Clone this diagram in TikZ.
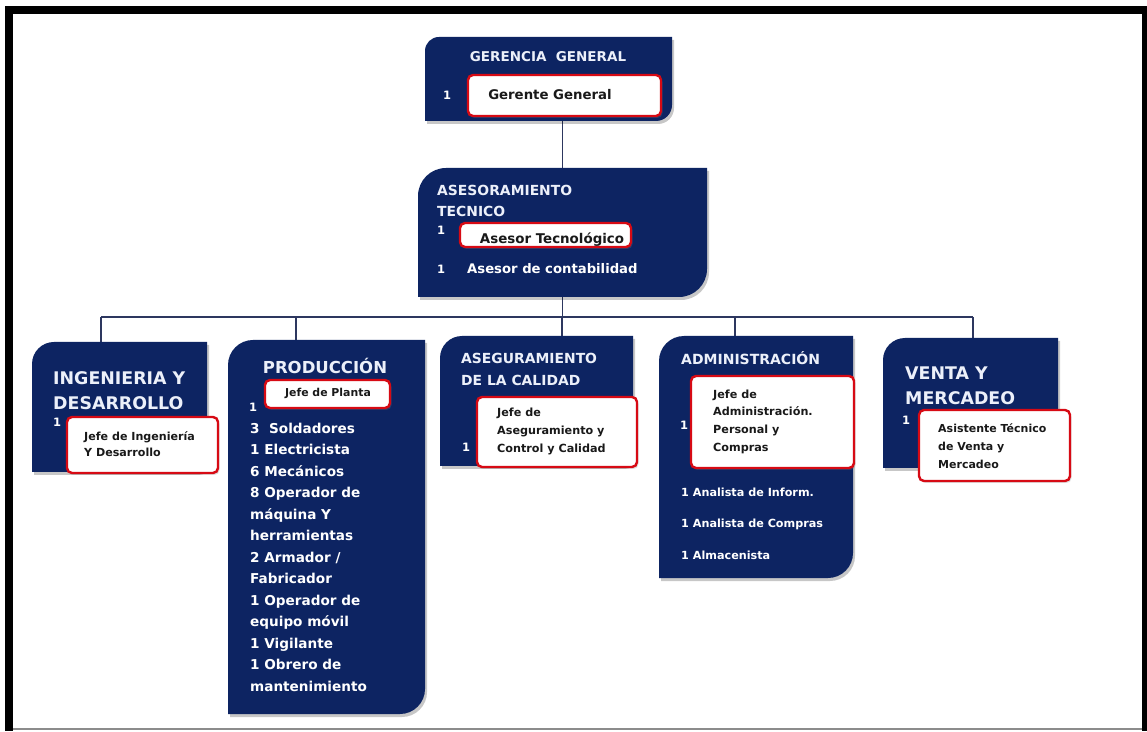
\documentclass[tikz,border=0pt]{standalone}
\usepackage{fontspec}
\setmainfont{DejaVu Sans}
\usetikzlibrary{shadows}
\definecolor{navy}{RGB}{13,36,98}
\definecolor{redb}{RGB}{215,10,20}
\definecolor{ink}{RGB}{25,25,25}
\definecolor{wire}{RGB}{45,55,95}
\definecolor{paleW}{RGB}{236,240,250}
\newcommand\fs[2]{\fontsize{#1}{#2}\selectfont\bfseries}
% name, r top-left, r bottom-right, dx, dy
\newcommand\orgpath[5]{([shift={(#4,#5)}]#1.south west) -- ([shift={(#4,#5-#2)}]#1.north west) arc[start angle=180,end angle=90,radius=#2pt] -- ([shift={(#4,#5)}]#1.north east) -- ([shift={(#4,#5+#3)}]#1.south east) arc[start angle=0,end angle=-90,radius=#3pt] -- cycle}
\newcommand\orgshape[3]{\fill[black,opacity=0.22] \orgpath{#1}{#2}{#3}{2}{-3};\fill[navy] \orgpath{#1}{#2}{#3}{0}{0};}
\tikzset{
  area/.style={rectangle, inner sep=0pt, outer sep=0pt, draw=none},
  wbox/.style={rectangle, inner sep=0pt, outer sep=0pt, draw=redb, line width=2.4pt, fill=white, rounded corners=5pt,
    drop shadow={shadow xshift=1.5pt, shadow yshift=-2pt, opacity=0.25}},
  wtxt/.style={inner sep=0pt, text=ink, align=left},
  ntxt/.style={inner sep=0pt, text=white, align=left},
  ttl/.style={inner sep=0pt, text=paleW, align=left},
  wire/.style={draw=wire, line width=1.1pt}
}
\begin{document}
\begin{tikzpicture}[x=1pt,y=1pt]
\useasboundingbox (0,0) rectangle (1147,731);
\fill[white] (0,0) rectangle (1147,731);
% frame
\fill[black] (5,0) rectangle (13,725);
\fill[black] (5,717) rectangle (1147,725);
\fill[black] (1142,0) rectangle (1147,725);
\fill[black!45] (13,1) rectangle (1142,3);

% areas
\node[area, minimum width=247pt, minimum height=84pt] (gg) at (548.5,652) {};
\node[area, minimum width=289pt, minimum height=129pt] (at) at (562.5,498.5) {};
\node[area, minimum width=175pt, minimum height=130pt] (ing) at (119.5,324) {};
\node[area, minimum width=197pt, minimum height=374pt] (prod) at (326.5,204) {};
\node[area, minimum width=193pt, minimum height=130pt] (aseg) at (536.5,330) {};
\node[area, minimum width=194pt, minimum height=242pt] (adm) at (756,274) {};
\node[area, minimum width=175pt, minimum height=130pt] (ven) at (970.5,328) {};

% connectors
\coordinate (dI) at (101,414);
\coordinate (dP) at (296,414);
\coordinate (dA) at (562,414);
\coordinate (dM) at (735,414);
\coordinate (dV) at (973,414);
\draw[wire] (at.north) -- (at.north |- gg.south);
\draw[wire] (at.south) -- (at.south |- dA);
\draw[wire] (dI) -- (dV);
\draw[wire] (dI) -- (dI |- ing.north);
\draw[wire] (dP) -- (dP |- prod.north);
\draw[wire] (dA) -- (dA |- aseg.north);
\draw[wire] (dM) -- (dM |- adm.north);
\draw[wire] (dV) -- (dV |- ven.north);

% shapes
\orgshape{gg}{14}{16}
\orgshape{at}{28}{28}
\orgshape{ing}{22}{10}
\orgshape{prod}{25}{25}
\orgshape{aseg}{22}{10}
\orgshape{adm}{25}{25}
\orgshape{ven}{22}{10}

% white boxes
\node[wbox, minimum width=193pt, minimum height=41pt] (ggw) at (564.5,635.5) {};
\node[wbox, minimum width=171pt, minimum height=24pt] (atw) at (545.5,496) {};
\node[wbox, minimum width=151pt, minimum height=56pt] (ingw) at (142.5,286) {};
\node[wbox, minimum width=125pt, minimum height=28pt] (prodw) at (327.5,337) {};
\node[wbox, minimum width=160pt, minimum height=70pt] (asegw) at (557,299) {};
\node[wbox, minimum width=163pt, minimum height=92pt] (admw) at (772.5,309) {};
\node[wbox, minimum width=151pt, minimum height=71pt] (venw) at (994.5,285.5) {};

% titles
\node[ttl, font=\fs{13.5}{16}] (t1) at (548,674) {GERENCIA\ \ GENERAL};
\node[ttl, anchor=west, font=\fs{13.9}{21}] (t2) at (437,530.5) {ASESORAMIENTO\\TECNICO};
\node[ttl, anchor=west, font=\fs{17.4}{25}] (t3) at (53,340.5) {INGENIERIA Y\\DESARROLLO};
\node[ttl, font=\fs{16.5}{20}] (t4) at (325,365) {PRODUCCIÓN};
\node[ttl, anchor=west, font=\fs{13.9}{22}] (t5) at (461,362) {ASEGURAMIENTO\\DE LA CALIDAD};
\node[ttl, anchor=west, font=\fs{14}{16}] (t6) at (681,373) {ADMINISTRACIÓN};
\node[ttl, anchor=west, font=\fs{17.4}{25}] (t7) at (905,345.5) {VENTA Y\\MERCADEO};

% counts
\node[ntxt, font=\fs{11.5}{13}] (n1) at (447,636) {1};
\node[ntxt, font=\fs{11.5}{13}] (n2) at (441,501) {1};
\node[ntxt, font=\fs{11.5}{13}] (n3) at (441,462) {1};
\node[ntxt, font=\fs{11.5}{13}] (n4) at (57,309) {1};
\node[ntxt, font=\fs{11.5}{13}] (n5) at (253,324) {1};
\node[ntxt, font=\fs{11.5}{13}] (n6) at (466,284) {1};
\node[ntxt, font=\fs{11.5}{13}] (n7) at (684,306) {1};
\node[ntxt, font=\fs{11.5}{13}] (n8) at (906,311) {1};

% white box texts
\node[wtxt, font=\fs{13.3}{15}] (w1) at (550,636) {Gerente General};
\node[wtxt, font=\fs{13.4}{15}] (w2) at (552,491) {Asesor Tecnológico};
\node[wtxt, anchor=west, font=\fs{11.1}{16.5}] (w3) at (84,287) {Jefe de Ingeniería\\Y Desarrollo};
\node[wtxt, font=\fs{10.9}{13}] (w4) at (328,338) {Jefe de Planta};
\node[wtxt, anchor=west, font=\fs{11.2}{18}] (w5) at (497,300) {Jefe de\\Aseguramiento y\\Control y Calidad};
\node[wtxt, anchor=west, font=\fs{11.2}{17.7}] (w6) at (713,309.5) {Jefe de\\Administración.\\Personal y\\Compras};
\node[wtxt, anchor=west, font=\fs{11}{18}] (w7) at (938,285) {Asistente Técnico\\de Venta y\\Mercadeo};

% other texts
\node[ntxt, anchor=west, font=\fs{13.2}{15}] (o1) at (467,462) {Asesor de contabilidad};
\node[ntxt, anchor=west, font=\fs{13.6}{21.5}] (o2) at (250,174) {3\ \ Soldadores\\1 Electricista\\6 Mecánicos\\8 Operador de\\máquina Y\\herramientas\\2 Armador /\\Fabricador\\1 Operador de\\equipo móvil\\1 Vigilante\\1 Obrero de\\mantenimiento};
\node[ntxt, anchor=west, font=\fs{11.2}{31.5}] (o3) at (681,207.5) {1 Analista de Inform.\\1 Analista de Compras\\1 Almacenista};
\end{tikzpicture}
\end{document}
